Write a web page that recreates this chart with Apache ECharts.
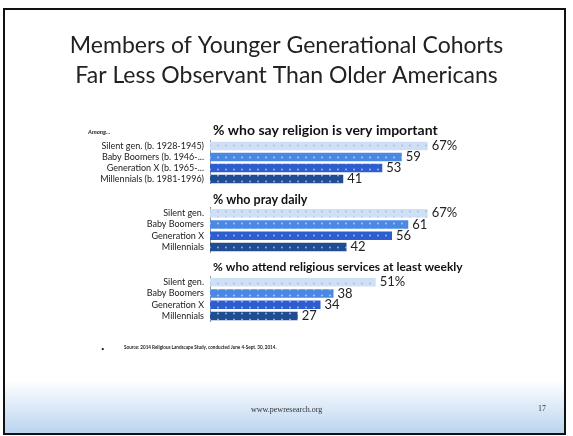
<!DOCTYPE html>
<html><head><meta charset="utf-8">
<script src="https://cdn.jsdelivr.net/npm/echarts@6/dist/echarts.min.js"></script>
<style>html,body{margin:0;padding:0;background:#fff}#c{width:573px;height:436px}</style>
</head><body><div id="c"></div>
<script>
const titleLines = ['Members of Younger Generational Cohorts', 'Far Less Observant Than Older Americans'];
const panelTitles = ['% who say religion is very important', '% who pray daily', '% who attend religious services at least weekly'];
const categoriesFirst = ['Silent gen. (b. 1928-1945)', 'Baby Boomers (b. 1946-...', 'Generation X (b. 1965-...', 'Millennials (b. 1981-1996)'];
const categoriesShort = ['Silent gen.', 'Baby Boomers', 'Generation X', 'Millennials'];
const importantValues = [67, 59, 53, 41];
const prayValues = [67, 61, 56, 42];
const attendValues = [51, 38, 34, 27];
const amongText = 'Among...';
const sourceText = 'Source: 2014 Religious Landscape Study, conducted June 4-Sept. 30, 2014.';
const footerUrl = 'www.pewresearch.org';
const pageNumber = '17';

const barColors = ['#cfe0f6', '#4a88e4', '#2e5dcf', '#1f4c92'];
const font = 'Lato';
const panels = [
  {cats: categoriesFirst, vals: importantValues, top: 140.5, h: 44},
  {cats: categoriesShort, vals: prayValues, top: 207.5, h: 45},
  {cats: categoriesShort, vals: attendValues, top: 276.5, h: 45}
];
const chart = echarts.init(document.getElementById('c'));
const grids = [], xAxes = [], yAxes = [], series = [];
panels.forEach((p, i) => {
  grids.push({left: 210, width: 325, top: p.top, height: p.h});
  xAxes.push({type: 'value', gridIndex: i, min: 0, max: 100, show: false});
  yAxes.push({type: 'category', gridIndex: i, inverse: true, data: p.cats,
    axisLine: {show: true, lineStyle: {color: '#8a8a8a', width: 1, type: 'dotted'}},
    axisTick: {show: false},
    axisLabel: {interval: 0, hideOverlap: false, fontFamily: font, fontSize: 9, color: '#1a1a1a', margin: 6}});
  series.push({type: 'bar', xAxisIndex: i, yAxisIndex: i, barWidth: 8.5,
    data: p.vals.map((v, k) => ({value: v, itemStyle: {color: barColors[k],
      decal: {symbol: 'circle', symbolSize: 0.6, dashArrayX: 4, dashArrayY: 3,
        color: k === 0 ? 'rgba(110,150,225,0.5)' : 'rgba(255,255,255,0.6)'}}})),
    label: {show: true, position: 'right', distance: 4, fontFamily: font, fontSize: 13,
      color: '#222', formatter: pr => pr.dataIndex === 0 ? pr.value + '%' : String(pr.value)},
    animation: false});
});
const panelTitleY = [132, 202, 270];
const panelTitleSize = [14, 12.5, 12];
const graphic = [
  {type: 'rect', shape: {x: 4, y: 380, width: 561, height: 54}, z: -10,
    style: {fill: new echarts.graphic.LinearGradient(0, 0, 0, 1, [
      {offset: 0, color: 'rgba(255,255,255,1)'}, {offset: 1, color: 'rgba(185,212,240,1)'}])}},
  {type: 'rect', shape: {x: 4, y: 9, width: 561, height: 425}, z: 10,
    style: {fill: 'none', stroke: '#111', lineWidth: 2}},
  {type: 'text', x: 88, y: 129, style: {text: amongText, font: 'italic bold 6px ' + font, fill: '#222'}},
  {type: 'text', x: 101, y: 346, style: {text: '•', font: '6px ' + font, fill: '#222'}},
  {type: 'text', x: 124, y: 345, style: {text: sourceText, font: 'bold 4.6px ' + font, fill: '#222'}},
  {type: 'text', x: 251, y: 406, style: {text: footerUrl, font: '8px "Liberation Serif"', fill: '#333'}},
  {type: 'text', x: 538, y: 405, style: {text: pageNumber, font: '8px "Liberation Serif"', fill: '#333'}}
];
panelTitles.forEach((t, i) => graphic.push({type: 'text', x: 213, y: panelTitleY[i] - 9,
  style: {text: t, font: 'bold ' + panelTitleSize[i] + 'px ' + font, fill: '#111'}}));
chart.setOption({
  animation: false,
  title: {text: titleLines.join('\n'), left: 'center', top: 26,
    textStyle: {fontFamily: font, fontSize: 23, fontWeight: 'normal', color: '#222', lineHeight: 30}},
  grid: grids, xAxis: xAxes, yAxis: yAxes, series: series, graphic: graphic
});
</script></body></html>
